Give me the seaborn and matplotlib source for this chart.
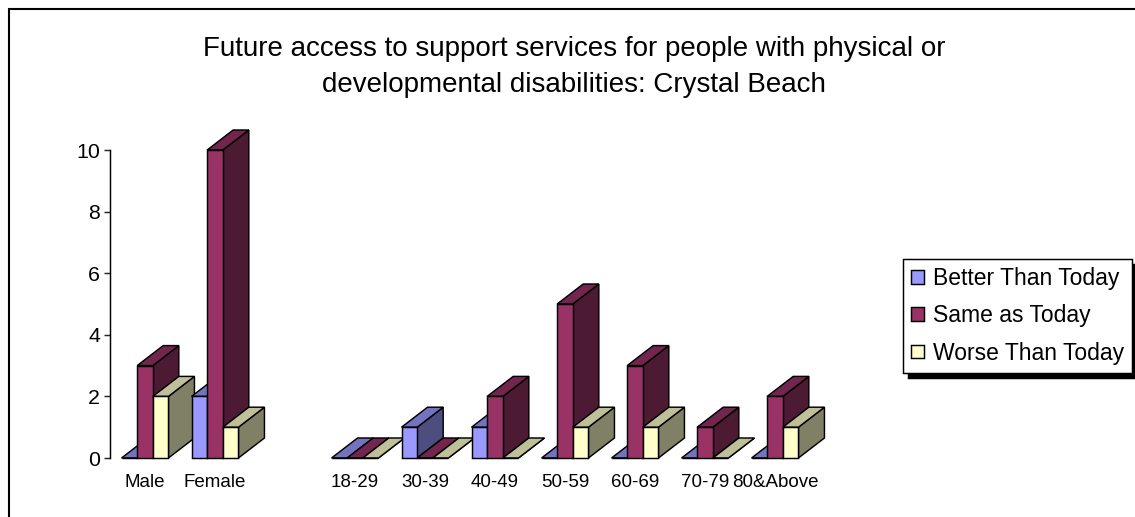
import matplotlib
matplotlib.use("Agg")
import matplotlib.pyplot as plt
from matplotlib.colors import to_rgb
from matplotlib.patches import Polygon, Rectangle
import pandas as pd
import seaborn as sns

# chart data
groups = ["Male", "Female", "", "18-29", "30-39", "40-49", "50-59", "60-69", "70-79", "80&Above"]
better = [0, 2, None, 0, 1, 1, 0, 0, 0, 0]
same = [3, 10, None, 0, 0, 2, 5, 3, 1, 2]
worse = [2, 1, None, 0, 0, 0, 1, 1, 0, 1]
responses = ["Better Than Today", "Same as Today", "Worse Than Today"]
colors = ["#9999FF", "#993366", "#FFFFCC"]
title = "Future access to support services for people with physical or\ndevelopmental disabilities: Crystal Beach"

W, H = 1135, 517
DEPTH_X, DEPTH_Y = 26, 20  # pixels of fake 3D depth
EDGE = 1.05


def shade(color, k):
    return tuple(c * k for c in to_rgb(color))


df = pd.DataFrame({"group": groups, responses[0]: better, responses[1]: same, responses[2]: worse})
df = df.melt(id_vars="group", var_name="response", value_name="count").dropna()

sns.set_style("white")
plt.rcParams["font.family"] = ["Liberation Sans", "DejaVu Sans"]

fig = plt.figure(figsize=(W / 100, H / 100), dpi=100)
ax = fig.add_axes([110 / W, (H - 458) / H, 700 / W, 308 / H])

sns.barplot(data=df, x="group", y="count", hue="response", order=groups, hue_order=responses,
            palette=colors, saturation=1, width=0.67, gap=0, edgecolor="black", linewidth=EDGE,
            errorbar=None, ax=ax)

ax.set_xlim(-0.5, len(groups) - 0.5)
ax.set_ylim(0, 10)

# fake 3D: side and top faces taken from each drawn bar
dx = DEPTH_X / 70
dy = DEPTH_Y / 30.8
for i, bars in enumerate(ax.containers):
    color = colors[i]
    for j, bar in enumerate(bars):
        if bar.get_height() != bar.get_height():
            continue
        x0, x1 = bar.get_x(), bar.get_x() + bar.get_width()
        h = bar.get_height()
        z = 3 + j * 10 + i * 2
        side = [(x1, 0), (x1 + dx, dy), (x1 + dx, h + dy), (x1, h)]
        top = [(x0, h), (x0 + dx, h + dy), (x1 + dx, h + dy), (x1, h)]
        ax.add_patch(Polygon(side, closed=True, fc=shade(color, 0.5), ec="black", lw=EDGE, zorder=z, clip_on=False))
        ax.add_patch(Polygon(top, closed=True, fc=shade(color, 0.75), ec="black", lw=EDGE, zorder=z, clip_on=False))
        bar.set_zorder(z + 1)
        bar.set_clip_on(False)

ax.set_xlabel("")
ax.set_ylabel("")
ax.set_yticks([0, 2, 4, 6, 8, 10])
for s in ["top", "right", "bottom"]:
    ax.spines[s].set_visible(False)
ax.spines["left"].set_linewidth(EDGE)
ax.spines["left"].set_color("black")
ax.tick_params(axis="x", length=0, pad=11.7, labelsize=13.5, labelcolor="black")
ax.tick_params(axis="y", left=True, length=4, width=EDGE, pad=3, labelsize=15.4, labelcolor="black")

fig.text(574 / W, (H - 67.5) / H, title, ha="center", va="center", fontsize=19.95, color="black", linespacing=1.5)

handles, labels = ax.get_legend_handles_labels()
leg = ax.legend(handles, labels, loc="upper left", bbox_to_anchor=(903 / W, (H - 259) / H),
                bbox_transform=fig.transFigure, fontsize=16.5, fancybox=False, framealpha=1,
                edgecolor="black", labelcolor="black",
                shadow={"color": "black", "alpha": 1, "ox": 3.6, "oy": -3.6},
                handlelength=0.55, handleheight=0.55, handletextpad=0.4, labelspacing=0.62,
                borderpad=0.36, borderaxespad=0)
leg.get_frame().set_linewidth(EDGE)

# chart area border, runs off the right and bottom of the image
fig.add_artist(Rectangle((9 / W, -0.1), 1.2, (H - 9) / H + 0.1, transform=fig.transFigure,
                         fill=False, ec="black", lw=1.5))

plt.savefig("out.png", dpi=100)
plt.close()
